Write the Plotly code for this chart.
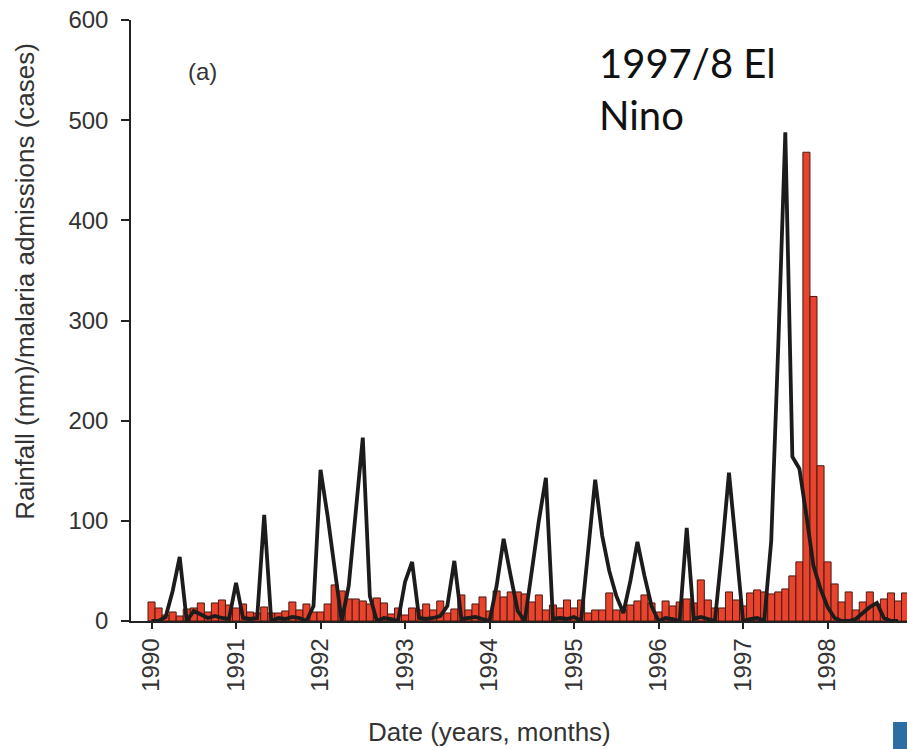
import numpy as np
import plotly.graph_objects as go

# Monthly series, January 1990 onwards
start_year = 1990
admissions = [
    19, 13, 6, 9, 5, 12, 13, 18, 9, 18, 21, 16,      # 1990
    13, 17, 9, 8, 14, 8, 8, 10, 19, 11, 17, 9,       # 1991
    9, 17, 36, 30, 22, 22, 20, 17, 23, 18, 7, 13,    # 1992
    6, 13, 11, 17, 11, 20, 8, 12, 26, 11, 17, 24,    # 1993
    10, 30, 24, 29, 29, 27, 19, 26, 11, 16, 13, 21,  # 1994
    13, 21, 8, 11, 11, 28, 11, 11, 16, 20, 26, 18,   # 1995
    9, 20, 15, 19, 22, 18, 41, 21, 13, 13, 29, 21,   # 1996
    15, 28, 31, 29, 27, 29, 32, 45, 59, 468, 324, 155,  # 1997
    59, 37, 19, 29, 11, 19, 29, 17, 22, 28, 20, 28,  # 1998
]
rainfall = [
    0, 0, 4, 30, 64, 0, 10, 6, 3, 5, 3, 2,
    38, 3, 2, 3, 106, 0, 3, 2, 4, 3, 0, 15,
    151, 105, 55, 0, 35, 110, 183, 25, 0, 3, 2, 0,
    39, 59, 3, 2, 3, 5, 15, 60, 2, 3, 4, 2,
    0, 35, 82, 45, 10, 0, 50, 100, 143, 2, 3, 2,
    4, 0, 70, 141, 85, 50, 25, 8, 40, 79, 45, 15,
    0, 3, 2, 0, 93, 2, 4, 2, 0, 70, 148, 75,
    0, 2, 3, 0, 80, 275, 488, 164, 152, 105, 55, 32,
    14, 3, 0, 0, 2, 8, 14, 18, 3, 0, 0,
]
year_ticks = [1990, 1991, 1992, 1993, 1994, 1995, 1996, 1997, 1998]
y_ticks = [0, 100, 200, 300, 400, 500, 600]

x_adm = start_year + np.arange(len(admissions)) / 12.0
x_rain = start_year + np.arange(len(rainfall)) / 12.0

axis_font = dict(family="Liberation Sans, Arial, sans-serif", size=24, color="#333333")
title_font = dict(family="Liberation Sans, Arial, sans-serif", size=26, color="#333333")

fig = go.Figure()
fig.add_trace(go.Bar(
    x=x_adm, y=admissions, width=1 / 12.0,
    marker=dict(color="#e8432c", line=dict(color="#4a1a12", width=1)),
    name="Malaria admissions", showlegend=False,
))
fig.add_trace(go.Scatter(
    x=x_rain, y=rainfall, mode="lines",
    line=dict(color="#1c1c1c", width=3.8),
    name="Rainfall", showlegend=False,
))

fig.update_layout(
    width=907, height=749,
    margin=dict(l=131, r=0, t=20, b=128),
    paper_bgcolor="white", plot_bgcolor="white",
    xaxis=dict(
        range=[1989.757, 1998.94],
        tickvals=year_ticks, ticktext=[str(y) for y in year_ticks],
        tickangle=-90, tickfont=axis_font,
        ticks="outside", ticklen=6, tickwidth=1.5, tickcolor="#222",
        showline=True, linecolor="#222", linewidth=1.5,
        showgrid=False, zeroline=False,
    ),
    yaxis=dict(
        range=[0, 600], tickvals=y_ticks,
        tickfont=axis_font,
        ticks="outside", ticklen=8, tickwidth=1.5, tickcolor="#222",
        ticklabelstandoff=8,
        showline=True, linecolor="#222", linewidth=1.5,
        showgrid=False, zeroline=False,
    ),
    annotations=[
        dict(text="Rainfall (mm)/malaria admissions (cases)",
             xref="paper", yref="paper", x=-0.1366, y=0.566,
             textangle=-90, showarrow=False, font=title_font,
             xanchor="center", yanchor="middle"),
        dict(text="Date (years, months)",
             xref="paper", yref="paper", x=0.4626, y=-0.1855,
             showarrow=False, font=title_font,
             xanchor="center", yanchor="middle"),
        dict(text="(a)", xref="paper", yref="paper", x=0.0915, y=0.9135,
             showarrow=False, font=axis_font, xanchor="center", yanchor="middle"),
        dict(text="1997/8 El<br>Nino", xref="paper", yref="paper",
             x=0.6005, y=0.972, showarrow=False, align="left",
             xanchor="left", yanchor="top",
             font=dict(family="Lato, Open Sans, sans-serif", size=40, color="#111")),
    ],
    shapes=[
        dict(type="rect", xref="paper", yref="paper",
             x0=0.982, x1=1.0, y0=-0.213, y1=-0.168,
             fillcolor="#2e6da4", line=dict(width=0)),
    ],
)

fig.write_html("out.html")
